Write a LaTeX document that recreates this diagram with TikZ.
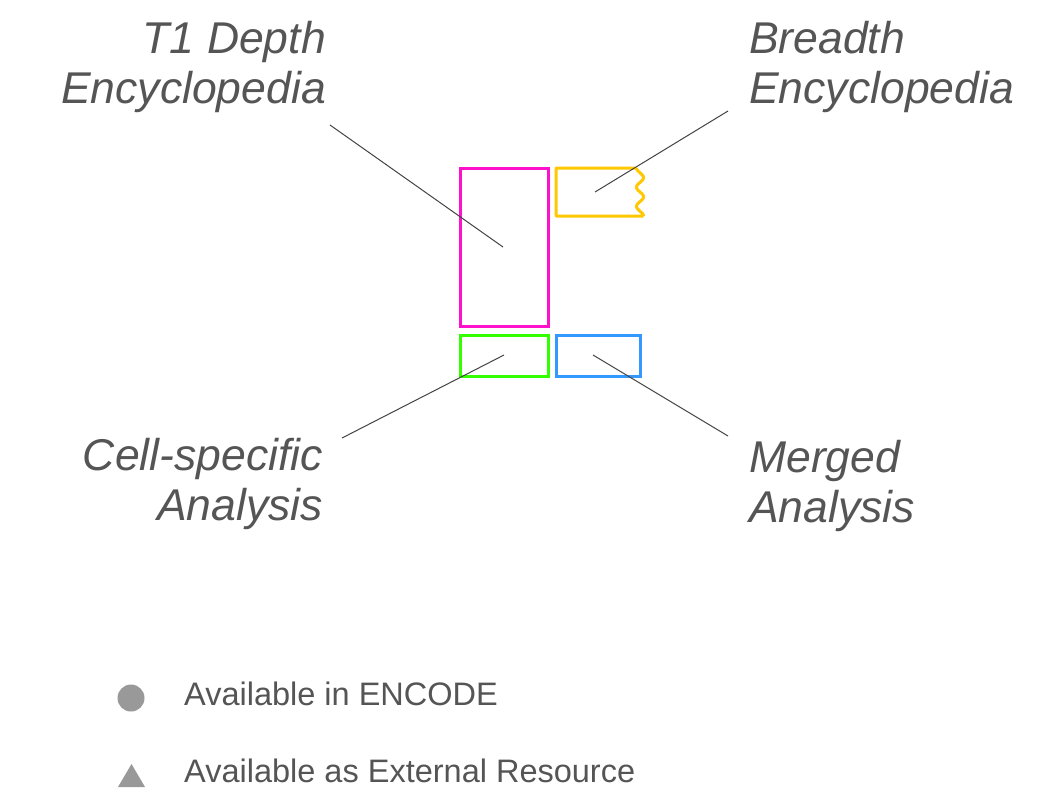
\documentclass[tikz,border=0pt]{standalone}
\usepackage{fontspec}
\setmainfont{Liberation Sans}
\begin{document}
\begin{tikzpicture}[x=1pt,y=-1pt,
  lbl/.style={inner sep=0pt, text=textgray, font=\itshape\fontsize{44.5}{50}\selectfont},
  lgd/.style={inner sep=0pt, text=textgray, font=\fontsize{32.5}{38}\selectfont, anchor=base west},
  boxs/.style={line width=3pt, inner sep=0pt},
  conn/.style={draw=linegray, line width=1pt}]
\definecolor{textgray}{HTML}{555555}
\definecolor{linegray}{HTML}{444444}
\definecolor{mag}{HTML}{FF11CC}
\definecolor{yel}{HTML}{FFC800}
\definecolor{grn}{HTML}{33FF00}
\definecolor{blu}{HTML}{3399FF}
\definecolor{lgdgray}{HTML}{999999}
\useasboundingbox (0,0) rectangle (1051,807);
\fill[white] (0,0) rectangle (1051,807);

% boxes
\node[boxs, draw=mag, minimum width=88pt, minimum height=158pt] (t1box) at (504,247) {};
\node[boxs, draw=grn, minimum width=88pt, minimum height=41pt] (cellbox) at (504,355.5) {};
\node[boxs, draw=blu, minimum width=84pt, minimum height=41pt] (mrgbox) at (598,355.5) {};
\draw[yel, line width=3pt, line join=round]
  (636.5,168) -- (556,168) -- (556,216) -- (643.5,216)
  plot[domain=48:0, samples=80] ({640-3.5*cos(deg(2*pi*\x/19.2))},{168+\x});
\coordinate (brbox) at (598,192);

% labels
\node[lbl, anchor=north east, align=right] (t1) at (326,21) {T1 Depth\\Encyclopedia};
\node[lbl, anchor=north west, align=left] (br) at (749,21) {Breadth\\Encyclopedia};
\node[lbl, anchor=north east, align=right] (cell) at (323,438) {Cell-specific\\Analysis};
\node[lbl, anchor=north west, align=left] (mrg) at (749,440) {Merged\\Analysis};

% connector end points
\coordinate (t1a) at (330,125);
\coordinate (t1b) at (503,247);
\coordinate (bra) at (728,111);
\coordinate (brb) at (595,192);
\coordinate (cela) at (342,438);
\coordinate (celb) at (504,355);
\coordinate (mrga) at (728,436);
\coordinate (mrgb) at (593,355);
\draw[conn] (t1a) -- (t1b);
\draw[conn] (bra) -- (brb);
\draw[conn] (cela) -- (celb);
\draw[conn] (mrga) -- (mrgb);

% legend
\node[circle, fill=lgdgray, inner sep=0pt, minimum size=27pt] (lc) at (131,698) {};
\node[lgd] (lct) at (184,705) {Available in ENCODE};
\fill[lgdgray] (118,787) -- (145,787) -- (131.5,764) -- cycle;
\coordinate (lt) at (131.5,778);
\node[lgd] (ltt) at (184,782) {Available as External Resource};
\end{tikzpicture}
\end{document}
